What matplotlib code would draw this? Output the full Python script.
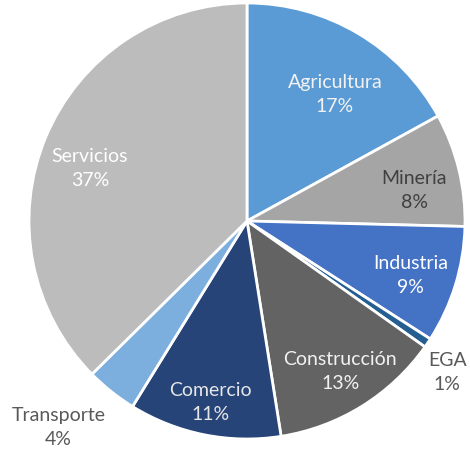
import numpy as np
import matplotlib.pyplot as plt

plt.rcParams['font.family'] = ['Lato', 'DejaVu Sans']

# datos
sectores = ['Agricultura', 'Minería', 'Industria', 'EGA', 'Construcción',
            'Comercio', 'Transporte', 'Servicios']
valores = [17.0, 8.4, 8.7, 0.7, 12.7, 11.3, 3.8, 37.4]

colores = ['#5B9BD5', '#A5A5A5', '#4472C4', '#255E91', '#636363',
           '#264478', '#7CAFDD', '#BCBCBC']
color_texto = ['#F2F2F2', '#404040', '#FFFFFF', '#595959', '#F2F2F2',
               '#E6E6E6', '#595959', '#FFFFFF']
# posicion de etiquetas: radio y desplazamiento angular respecto al centro de la porcion
radio_etq = [0.71, 0.78, 0.79, 1.15, 0.81, 0.845, 1.28, 0.76]
giro_etq = [-4, -3, -1, -3, 0, 0, -4, 4]

W, H = 470, 452
cx, cy, R = 247, 230, 218  # centro (px desde abajo) y radio en px

fig = plt.figure(figsize=(W / 100, H / 100), dpi=100)
ax = fig.add_axes([0, 0, 1, 1])

wedges, _ = ax.pie(valores, colors=colores, startangle=90, counterclock=False,
                   radius=1.0, wedgeprops=dict(edgecolor='white', linewidth=2))

for w, nombre, v, r, g, c in zip(wedges, sectores, valores, radio_etq, giro_etq, color_texto):
    ang = np.deg2rad((w.theta1 + w.theta2) / 2 + g)
    ax.text(r * np.cos(ang), r * np.sin(ang), f'{nombre}\n{round(v):.0f}%',
            ha='center', va='center', fontsize=14, color=c, linespacing=1.5)

ax.set_aspect('auto')
ax.set_xlim(-cx / R, (W - cx) / R)
ax.set_ylim(-cy / R, (H - cy) / R)
ax.axis('off')

plt.savefig('out.png', dpi=100)
